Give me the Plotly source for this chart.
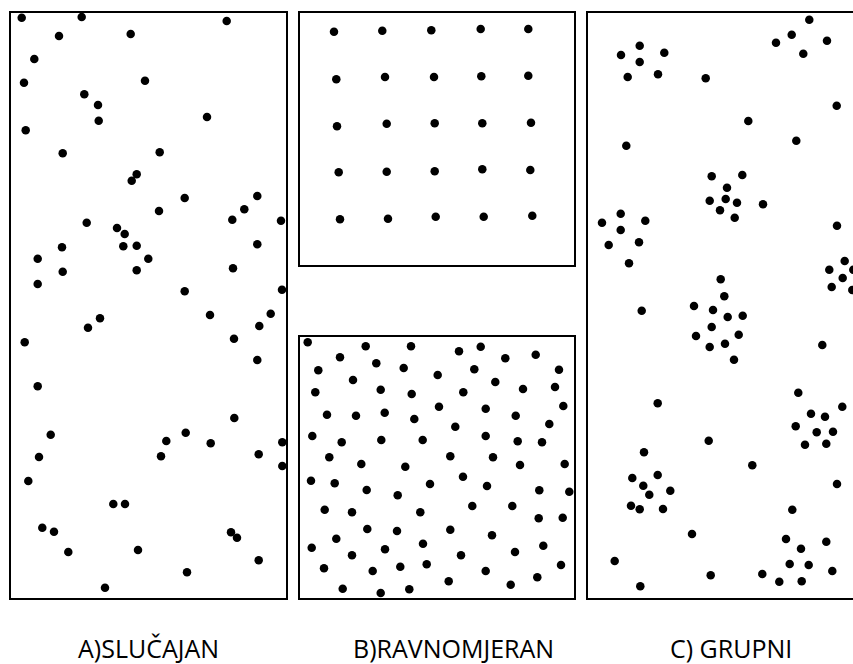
import plotly.graph_objects as go

# Panel labels
labels = ["A)SLUČAJAN", "B)RAVNOMJERAN", "C) GRUPNI"]
label_x = [148, 453, 731]
label_y = [648, 648, 648]

# A) random pattern (pixel-space coordinates read from the picture)
a_x = [21.7, 81.7, 226.7, 59, 130.7, 34.3, 24, 145, 84.3, 98, 98.7, 207, 25.7, 62.7, 159.7,
       136.7, 131.7, 184.7, 257.3, 159, 244.3, 86.7, 232.3, 281, 117, 124.7, 62, 123.3, 136.7,
       257.3, 37.7, 148.3, 62.7, 136.7, 233, 37.7, 184.7, 282, 100, 210, 270.7, 88, 259.3,
       24.7, 234, 257.3, 37.7, 234.3, 50.7, 166.3, 185.7, 210.7, 282.3, 39, 161, 258.7, 282.3,
       28.3, 113.3, 125, 42.3, 54, 231, 237, 68.3, 138, 258.7, 187, 105]
a_y = [17.7, 17, 21, 36, 34, 59, 82.7, 80.7, 94.3, 105, 120.7, 117, 130.3, 153.3, 152.3,
       174.3, 180.7, 198, 196, 211, 209.3, 222.7, 219.7, 220.7, 228, 234, 247.3, 246.3, 245.7,
       244.3, 258.7, 258.7, 271.7, 270.3, 268.3, 284, 291.3, 289.7, 318.3, 315, 313.7, 327.7, 326,
       342.3, 338.7, 360, 386.3, 418, 434.7, 441, 432.7, 443.3, 442.3, 457, 456.3, 454.3, 466,
       481, 504, 504, 527.7, 531.7, 532.3, 537.7, 552, 550, 560.3, 572.3, 587.7]

# B) uniform pattern, top (regular grid)
b1_x = [334, 382.3, 431.3, 480.7, 528.3,
        336.3, 385, 434, 481.3, 528.3,
        337, 386.7, 434.7, 482.3, 531,
        338.7, 386.7, 434.7, 482.3, 530.3,
        340, 388, 435.7, 483.7, 532.3]
b1_y = [31.7, 30.7, 30.3, 29, 29,
        79.3, 77, 77, 76.3, 75.7,
        126.3, 123.7, 123.3, 123.3, 122.7,
        172.3, 171.7, 171.3, 169.3, 170,
        219.3, 218.7, 216.7, 216.7, 215.7]

# B) uniform pattern, bottom (even spacing)
b2_x = [307.7, 365.7, 411, 459, 480.7, 340, 505.3, 535.7, 376.3, 318.3, 403.7, 474.3, 559,
        437.7, 353, 495.3, 315.3, 380.7, 411.7, 463.3, 523, 555, 439, 485.7, 563.3, 327, 356,
        384.7, 414.3, 515.7, 549.3, 455.3, 312.3, 341.7, 381.3, 422.7, 485.7, 517.7, 542,
        329.3, 361.3, 405.3, 450.3, 493, 520, 564.7,
        311, 334.7, 463, 430, 487, 366.7, 397.7, 539.3, 569.3, 324.7, 352, 420.3, 472.3, 512.3,
        538.7, 562.7, 367.3, 397, 450.3, 492, 336.3, 311.7, 385, 423, 352, 461, 515, 543.3,
        324, 372.7, 400.3, 426.7, 485.7, 561, 448.7, 510.7, 537.3, 342.7, 380.7, 409.3]
b2_y = [342.3, 346.3, 346.3, 351.3, 346.7, 357.3, 358.3, 354.7, 363.3, 370.3, 368, 369.3, 369.7,
        375, 380, 382, 392.3, 389.7, 394, 392.3, 389, 387, 406.7, 408.7, 406, 414.7, 415.7,
        412.7, 419, 415.7, 424, 426.7, 436, 442.3, 440, 440, 436, 441.3, 442.3,
        457.3, 464, 466.7, 456.3, 457.3, 465, 464,
        480.7, 483.3, 476.7, 484, 486, 490, 495.3, 490.3, 491.7, 509.7, 512.3, 512.3, 506, 506,
        518.3, 517.7, 529, 531, 529.7, 535.3, 538.7, 547.7, 549.3, 543.7, 555.3, 555.3, 552, 545.7,
        568.3, 571, 566.7, 564.3, 571, 565, 581.3, 584.7, 577.3, 588.7, 593, 589.3]

# C) clustered pattern
c_x = [639.7, 621, 664.3, 639.7, 627.7, 658, 705.7, 809.3, 791.7, 776, 827, 803.3, 836.7,
       748.3, 796.3, 626.3, 711.7, 742.3, 727, 709.7, 725.7, 737, 763, 720, 734.7,
       620.7, 602, 645.3, 620.7, 608.7, 639, 629, 837, 844.7, 829.3, 853.3, 842.7, 831.7, 852.3,
       720.7, 724.3, 694, 713, 727.7, 742.7, 711.7, 696, 738.7, 709.7, 725, 734, 641.7, 822.3,
       798.3, 657.7, 842.3, 811, 825, 795.7, 816.7, 833, 805, 826.3, 708.7, 644, 752.3, 632.3,
       657.7, 643.3, 670.3, 649.3, 631, 639.7, 663, 837, 792.3, 692, 786, 826.3, 801, 614.7,
       789.7, 808.7, 832.3, 762.3, 710.7, 779.3, 801.7, 640.3]
c_y = [45.7, 55, 52.7, 62, 77, 74.3, 78.3, 19.7, 34.7, 42.7, 40.7, 53.7, 105.7,
       121, 140.7, 145.7, 176.3, 175, 187.7, 200.7, 199, 202.7, 204.3, 210.3, 217.7,
       213.7, 222.7, 220.7, 230, 245, 242.3, 263.3, 225.7, 261, 269.7, 269.7, 278, 287, 290,
       279.3, 296.3, 306, 310, 317, 315.7, 327, 336, 334.7, 347, 343.7, 359.7, 310.7, 345,
       392.7, 403.3, 406.7, 413.7, 416.7, 426.3, 432.3, 431.7, 444.7, 443.7, 440.7, 452.3, 465.3, 478,
       475, 485.7, 490.7, 494.7, 505.7, 509.3, 509, 484, 509.7, 534, 539, 541.7, 548.7, 561,
       564, 565, 571, 574, 575.3, 581.7, 581.3, 586.3]

marker = dict(color="black", size=8.5, line=dict(width=0))

fig = go.Figure()
for xs, ys in [(a_x, a_y), (b1_x, b1_y), (b2_x, b2_y), (c_x, c_y)]:
    fig.add_trace(go.Scatter(x=xs, y=ys, mode="markers", marker=marker,
                             hoverinfo="skip", showlegend=False))

frames = [(10, 12, 287, 599), (299, 12, 575, 266), (299, 336, 575, 599), (587, 12, 860, 599)]
for x0, y0, x1, y1 in frames:
    fig.add_shape(type="rect", xref="x", yref="y", x0=x0, y0=y0, x1=x1, y1=y1,
                  line=dict(color="black", width=2), layer="below")

for t, lx, ly in zip(labels, label_x, label_y):
    fig.add_annotation(x=lx, y=ly, xref="x", yref="y", text=t, showarrow=False,
                       font=dict(family="Open Sans", size=25, color="black"))

fig.update_layout(
    width=853, height=664,
    margin=dict(l=0, r=0, t=0, b=0),
    paper_bgcolor="white", plot_bgcolor="white",
    xaxis=dict(range=[0, 853], visible=False, fixedrange=True),
    yaxis=dict(range=[664, 0], visible=False, fixedrange=True),
)

fig.write_html("out.html", config={"displayModeBar": False},
               post_script="document.body.style.margin='0';document.body.style.overflow='hidden';")
